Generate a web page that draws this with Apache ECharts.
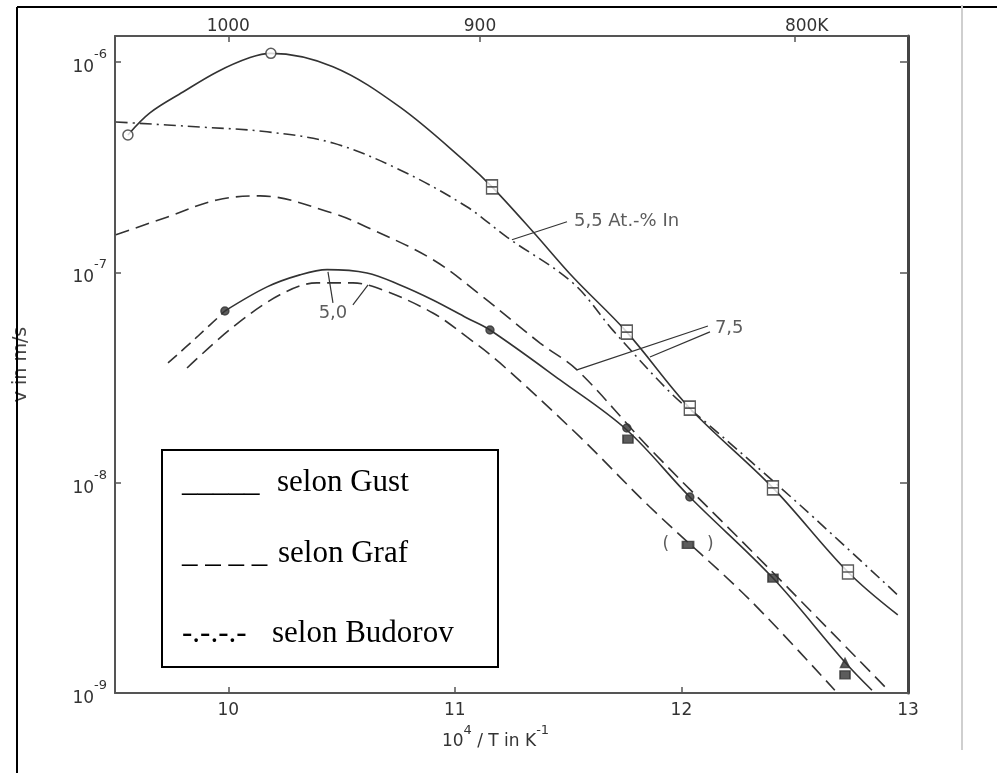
<!DOCTYPE html>
<html>
<head>
<meta charset="utf-8">
<script src="https://cdn.jsdelivr.net/npm/echarts@6/dist/echarts.min.js"></script>
<style>
  html, body { margin: 0; padding: 0; background: #fff; }
  #chart { width: 997px; height: 773px; }
</style>
</head>
<body>
<div id="chart"></div>
<script>
// ---- axis ticks ----
const xTickLabels = [10, 11, 12, 13];
const xTickMarks = [10, 11, 12];
const topTemps = [1000, 900, 800];
const topLabels = ['1000', '900', '800K'];

// ---- curves: [10^4/T, v in m/s] ----
const gust55 = [[9.557,4.50e-7],[9.654,5.73e-7],[9.800,7.2e-7],[9.950,8.97e-7],[10.096,1.05e-6],[10.188,1.10e-6],[10.462,9.5e-7],[10.758,6.1e-7],[11.053,3.31e-7],[11.164,2.55e-7],[11.345,1.56e-7],[11.521,9.5e-8],[11.759,5.2e-8],[12.037,2.26e-8],[12.404,9.45e-9],[12.735,3.76e-9],[12.955,2.35e-9]];
const budorov55 = [[9.504,5.19e-7],[9.875,4.91e-7],[10.171,4.66e-7],[10.462,4.12e-7],[10.758,3.07e-7],[11.053,2.05e-7],[11.230,1.47e-7],[11.521,8.9e-8],[11.698,5.3e-8],[11.962,2.61e-8],[12.095,1.99e-8],[12.523,7.83e-9],[12.964,2.86e-9]];
const grafUpper = [[9.504,1.51e-7],[9.729,1.83e-7],[9.950,2.21e-7],[10.140,2.31e-7],[10.462,1.91e-7],[10.612,1.64e-7],[10.903,1.15e-7],[11.124,7.64e-8],[11.376,4.61e-8],[11.539,3.44e-8],[11.861,1.45e-8],[12.377,4.0e-9],[12.902,1.06e-9]];
const gustLower = [[9.985,6.55e-8],[10.171,8.53e-8],[10.316,9.73e-8],[10.436,1.03e-7],[10.612,9.93e-8],[10.758,8.71e-8],[10.903,7.39e-8],[11.053,6.07e-8],[11.155,5.32e-8],[11.464,3.08e-8],[11.759,1.78e-8],[12.037,8.55e-9],[12.404,3.52e-9],[12.722,1.40e-9],[12.841,1.03e-9]];
const grafLowerLeft = [[9.734,3.71e-8],[9.862,4.93e-8],[9.985,6.55e-8]];
const grafLowest = [[9.818,3.51e-8],[10.021,5.50e-8],[10.228,7.82e-8],[10.391,8.91e-8],[10.550,8.91e-8],[10.683,8.24e-8],[10.903,6.41e-8],[11.053,4.93e-8],[11.199,3.71e-8],[11.552,1.65e-8],[11.861,7.66e-9],[12.302,2.77e-9],[12.677,1.03e-9]];

// ---- measured points ----
const openCircles = [[9.557,4.50e-7],[10.188,1.10e-6]];
const boxMarks = [[11.164,2.55e-7],[11.759,5.2e-8],[12.037,2.26e-8],[12.404,9.45e-9],[12.735,3.76e-9]];
const filledDots = [[9.985,6.55e-8],[11.155,5.32e-8],[11.759,1.82e-8],[12.037,8.55e-9]];
const filledSquares = [[11.764,1.61e-8],[12.404,3.52e-9],[12.722,1.22e-9]];
const triangles = [[12.722,1.39e-9]];
const bracketed = [[12.029,5.06e-9]];

// ---- annotations ----
const pointers = [
  [[11.495,1.74e-7],[11.252,1.43e-7]],
  [[12.117,5.56e-8],[11.539,3.44e-8]],
  [[12.126,5.21e-8],[11.861,3.96e-8]],
  [[10.440,1.005e-7],[10.462,7.16e-8]],
  [[10.617,8.71e-8],[10.550,7.0e-8]]
];
const annotLabels = [
  {value:[11.517,1.74e-7], name:'5,5 At.-% In', pos:'right'},
  {value:[12.139,5.44e-8], name:'7,5', pos:'right'},
  {value:[10.462,6.41e-8], name:'5,0', pos:'inside'}
];

// ---- legend texts ----
const legendMarks = ['_____', '_ _ _ _', '-.-.-.-'];
const legendNames = ['selon Gust', 'selon Graf', 'selon Budorov'];

const ink = '#333';
const sans = 'DejaVu Sans';
const topTicks = topTemps.map(T => 1e4 / T);

function lineSeries(data, type) {
  return { type:'line', data, smooth:0.35, symbol:'none', z:2,
    lineStyle:{ color:ink, width:1.6, type } };
}
function scatter(data, symbol, size, fill, extra) {
  return Object.assign({ type:'scatter', data, symbol, symbolSize:size, z:4,
    itemStyle:{ color:fill, borderColor:ink, borderWidth:1.5 } }, extra || {});
}

const series = [
  lineSeries(gust55, 'solid'),
  lineSeries(budorov55, [12,5,2,5]),
  lineSeries(grafUpper, [14,7]),
  lineSeries(gustLower, 'solid'),
  lineSeries(grafLowerLeft, [12,6]),
  lineSeries(grafLowest, [14,7]),
  scatter(openCircles, 'circle', 10, '#fff'),
  scatter(boxMarks, 'path://M0,0 L10,0 L10,14 L0,14 Z M0,7 L10,7', [11,14], '#fff'),
  scatter(filledDots, 'circle', 8, ink),
  scatter(filledSquares, 'rect', [10,8], ink),
  scatter(triangles, 'triangle', 9, ink),
  scatter(bracketed, 'rect', [11,7], ink, {
    label:{ show:true, position:'inside', formatter:'(       )', color:ink, fontSize:17, fontFamily:sans }
  })
];
pointers.forEach(p => series.push({ type:'line', data:p, symbol:'none', z:3,
  lineStyle:{ color:ink, width:1.2 } }));
series.push({ type:'scatter', symbolSize:0, z:5,
  data: annotLabels.map(a => ({ value:a.value, name:a.name,
    label:{ show:true, position:a.pos, distance:2, formatter:'{b}', color:ink,
      fontSize:18, fontFamily:sans } })) });

const yLabelRich = {
  b:{ fontSize:17, color:ink, fontFamily:sans, lineHeight:28, verticalAlign:'bottom' },
  s:{ fontSize:13, color:ink, fontFamily:sans, lineHeight:28, verticalAlign:'top' }
};
function decadeLabel(v) {
  const e = Math.log10(v), r = Math.round(e);
  if (Math.abs(e - r) > 1e-6) return '';
  return '{b|10}{s|' + r + '}';
}

const legendGraphics = [
  { type:'rect', shape:{ x:162, y:450, width:336, height:217 }, style:{ fill:'#fff', stroke:'#000', lineWidth:2 }, z:20 }
];
const legendRowTop = [467, 538, 618];
const legendNameLeft = [277, 278, 272];
legendMarks.forEach((m, i) => {
  legendGraphics.push({ type:'text', left:182, top:legendRowTop[i],
    style:{ text:m, font:'31px "Liberation Serif"', fill:'#000' }, z:21 });
  legendGraphics.push({ type:'text', left:legendNameLeft[i], top:legendRowTop[i],
    style:{ text:legendNames[i], font:'31px "Liberation Serif"', fill:'#000' }, z:21 });
});

const option = {
  animation:false,
  backgroundColor:'#fff',
  grid:{ left:115, right:89, top:36, bottom:80 },
  xAxis:[{
    type:'value', position:'bottom', min:9.5, max:13,
    axisLine:{ lineStyle:{ color:'#555', width:2 } },
    axisTick:{ inside:true, length:6, customValues:xTickMarks, lineStyle:{ color:'#555', width:1.5 } },
    axisLabel:{ customValues:xTickLabels, margin:9, color:ink, fontSize:17, fontFamily:sans },
    splitLine:{ show:false },
    name:'{b|10}{s|4}{b| / T in K}{s|-1}', nameLocation:'middle', nameGap:26,
    nameTextStyle:{ padding:[0,32,0,0], rich:{
      b:{ fontSize:17, color:ink, fontFamily:sans, lineHeight:26, verticalAlign:'bottom' },
      s:{ fontSize:13, color:ink, fontFamily:sans, lineHeight:26, verticalAlign:'top' } } }
  },{
    type:'value', position:'top', min:9.5, max:13,
    axisLine:{ lineStyle:{ color:'#555', width:2 } },
    axisTick:{ inside:true, length:6, customValues:topTicks, lineStyle:{ color:'#555', width:1.5 } },
    axisLabel:{ customValues:topTicks, margin:1, color:ink, fontSize:17, fontFamily:sans,
      rich:{ k:{ fontSize:17, color:ink, fontFamily:sans, padding:[0,0,0,24] } },
      formatter: v => {
        const i = topTicks.findIndex(t => Math.abs(t - v) < 1e-6);
        if (i < 0) return '';
        return /K$/.test(topLabels[i]) ? '{k|' + topLabels[i] + '}' : topLabels[i];
      } },
    splitLine:{ show:false }
  }],
  yAxis:[{
    type:'log', logBase:10, min:1e-9, max:1.33e-6, position:'left',
    axisLine:{ show:true, lineStyle:{ color:'#555', width:2 } },
    axisTick:{ inside:true, length:6, lineStyle:{ color:'#555', width:1.5 } },
    minorTick:{ show:false },
    axisLabel:{ margin:8, formatter:decadeLabel, rich:yLabelRich },
    splitLine:{ show:false },
    name:'v in m/s', nameLocation:'middle', nameRotate:90, nameGap:84,
    nameTextStyle:{ color:'#444', fontSize:19, fontFamily:sans }
  },{
    type:'log', logBase:10, min:1e-9, max:1.33e-6, position:'right',
    axisLine:{ show:true, lineStyle:{ color:'#444', width:3 } },
    axisTick:{ inside:true, length:8, lineStyle:{ color:'#555', width:1.5 } },
    axisLabel:{ show:false }, splitLine:{ show:false }
  }],
  graphic:[
    { type:'line', shape:{ x1:17, y1:7, x2:997, y2:7 }, style:{ stroke:'#000', lineWidth:2 }, z:10 },
    { type:'line', shape:{ x1:17, y1:7, x2:17, y2:773 }, style:{ stroke:'#000', lineWidth:2 }, z:10 },
    { type:'line', shape:{ x1:962, y1:5, x2:962, y2:750 }, style:{ stroke:'#cfcfcf', lineWidth:2 }, z:10 }
  ].concat(legendGraphics),
  series
};

const chart = echarts.init(document.getElementById('chart'), null, { renderer:'canvas' });
chart.setOption(option);
</script>
</body>
</html>
